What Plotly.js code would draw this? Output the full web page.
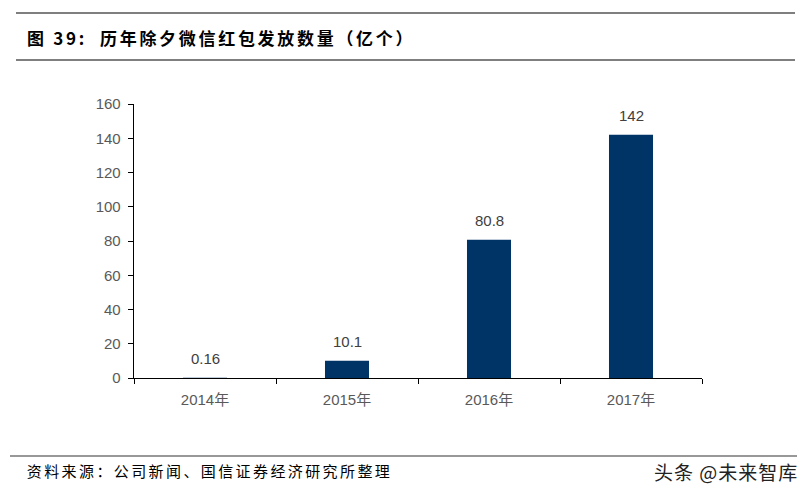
<!DOCTYPE html>
<html><head><meta charset="utf-8">
<script src="https://cdn.plot.ly/plotly-3.0.1.min.js"></script>
<style>body{margin:0;background:#fff}#c{width:809px;height:500px}
g.annotation[data-index="0"] text{letter-spacing:2.7px}
g.annotation[data-index="1"] text{letter-spacing:2.4px}
g.annotation[data-index="2"] text{letter-spacing:1px}
</style>
</head><body><div id="c"></div>
<script>
const categories = ['2014年','2015年','2016年','2017年'];
const values = [0.16, 10.1, 80.8, 142];
const labels = ['0.16','10.1','80.8','142'];
const yTicks = [0,20,40,60,80,100,120,140,160];

const W=809,H=500,L=134,R=702,T=104,B=378;
const px=x=>(x-L)/(R-L), py=y=>(B-y)/(B-T);
const cjk='"Noto Sans CJK SC", "Liberation Sans", Arial, sans-serif';
const latin='"Liberation Sans", Arial, sans-serif';

const trace={type:'bar',x:categories,y:values,
  marker:{color:'#003366'},hoverinfo:'skip'};

const annotations=[
  {xref:'paper',yref:'paper',x:px(56),y:py(37),xanchor:'left',yanchor:'middle',showarrow:false,
   text:'<b>图 39:  历年除夕微信红包发放数量（亿个）</b>',font:{family:cjk,size:17,color:'#000'}},
  {xref:'paper',yref:'paper',x:px(50),y:py(470),xanchor:'left',yanchor:'middle',showarrow:false,
   text:'资料来源：公司新闻、国信证券经济研究所整理',font:{family:cjk,size:15,color:'#000'}},
  {xref:'paper',yref:'paper',x:px(796),y:py(471),xanchor:'right',yanchor:'middle',showarrow:false,
   text:'头条 @未来智库',font:{family:cjk,size:19,color:'#222'}}
];
categories.forEach((c,i)=>annotations.push({xref:'x',yref:'y',x:c,y:values[i],text:labels[i],
  showarrow:false,yanchor:'middle',yshift:19,font:{family:latin,size:15,color:'#404040'}}));

const layout={width:W,height:H,margin:{l:L,r:W-R,t:T,b:H-B},paper_bgcolor:'#fff',plot_bgcolor:'#fff',
  showlegend:false,bargap:0.69,
  font:{family:latin,size:15,color:'#595959'},
  xaxis:{showline:true,linecolor:'#000',linewidth:1.3,ticks:'outside',ticklen:5,tickcolor:'#000',
    tickson:'boundaries',showgrid:false,zeroline:false,ticklabelstandoff:8,
    tickfont:{family:'"Liberation Sans", "Noto Sans CJK SC", Arial, sans-serif',size:15,color:'#595959'}},
  yaxis:{range:[0,160],tickvals:yTicks,showline:true,linecolor:'#000',linewidth:1.3,ticks:'outside',
    ticklen:5,tickcolor:'#000',showgrid:false,zeroline:false,ticklabelstandoff:4,
    tickfont:{size:15,color:'#595959'}},
  shapes:[
    {type:'line',xref:'paper',yref:'paper',x0:px(16),x1:px(795),y0:py(13),y1:py(13),line:{color:'#000',width:1.2}},
    {type:'line',xref:'paper',yref:'paper',x0:px(16),x1:px(795),y0:py(60),y1:py(60),line:{color:'#000',width:1.2}},
    {type:'line',xref:'paper',yref:'paper',x0:px(10),x1:px(797),y0:py(456),y1:py(456),line:{color:'#333',width:1.2}}
  ],
  annotations:annotations};
Plotly.newPlot('c',[trace],layout,{staticPlot:true});
</script></body></html>
